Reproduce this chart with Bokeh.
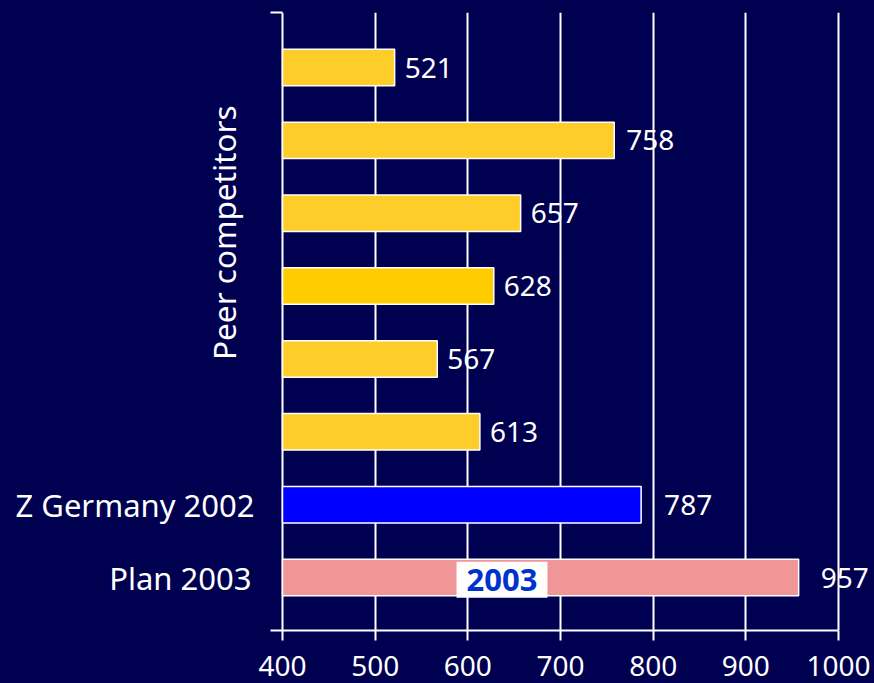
from bokeh.plotting import figure
from bokeh.models import ColumnDataSource, FixedTicker, Label, Range1d, LinearAxis
from bokeh.embed import file_html
from bokeh.resources import INLINE
from bokeh.core.properties import value
import math

# ---- data (top to bottom) ----
categories = ["Peer 1", "Peer 2", "Peer 3", "Peer 4", "Peer 5", "Peer 6", "Z Germany 2002", "Plan 2003"]
row_labels = ["", "", "", "", "", "", "Z Germany 2002", "Plan 2003"]
values = [521, 758, 657, 628, 567, 613, 787, 957]
tick_values = [400, 500, 600, 700, 800, 900, 1000]
group_label = "Peer competitors"
plan_badge = "2003"

# ---- styles ----
BG = "#000050"
FONT = "Noto Sans"
FS_TEXT = "31px"
FS_NUM = "28px"
bar_colors = ["#FFCD2A", "#FFCD2A", "#FFCD2A", "#FFCC00", "#FFCD2A", "#FFCD2A", "#0000FF", "#F09598"]
label_offsets = [10, 12, 10, 10, 10, 10, 23, 22]
cat_offsets = [-28, -28, -28, -28, -28, -28, -28, -31]

n = len(categories)
ypos = [n - 1 - i for i in range(n)]  # top row highest
x0 = tick_values[0]
x1 = tick_values[-1]
k = 556 / (x1 - x0)  # px per unit

src = ColumnDataSource(dict(
    y=ypos, v=values, c=bar_colors, off=label_offsets, coff=cat_offsets,
    txt=[str(v) for v in values], cat=row_labels, base=[x0] * n,
))

p = figure(width=874, height=683, output_backend="svg", toolbar_location=None,
           x_range=Range1d(x0 - 282 / k, x1 + 36 / k),
           y_range=Range1d(-0.727, n - 1 + 0.755),
           y_axis_location=None,
           min_border_left=0, min_border_right=0, min_border_top=12, min_border_bottom=53)
p.background_fill_color = BG
p.border_fill_color = BG
p.outline_line_color = None

p.hbar(y="y", left=x0, right="v", height=0.5, fill_color="c",
       line_color="white", line_width=1.5, source=src)

# value labels
p.text(x="v", y="y", text="txt", x_offset="off", source=src,
       text_color="white", text_font=value(FONT), text_font_size=FS_NUM,
       text_baseline="middle", text_align="left")

# row (category) labels left of the axis
p.text(x="base", y="y", text="cat", x_offset="coff", source=src,
       text_color="white", text_font=value(FONT), text_font_size=FS_TEXT,
       text_baseline="middle", text_align="right")

# group label, rotated
peer_y = sum(ypos[:6]) / 6
p.text(x=[x0], y=[peer_y], text=[group_label], x_offset=-59, y_offset=-17,
       angle=math.pi / 2, text_color="white", text_font=value(FONT),
       text_font_size="31.5px", text_align="center", text_baseline="middle")

# x axis
p.xaxis.ticker = FixedTicker(ticks=tick_values)
p.xaxis.bounds = (x0 - 12 / k, x1)
p.xaxis.axis_line_color = "white"
p.xaxis.axis_line_width = 2
p.xaxis.major_tick_line_color = "white"
p.xaxis.major_tick_line_width = 2
p.xaxis.major_tick_in = 0
p.xaxis.major_tick_out = 10
p.xaxis.minor_tick_line_color = None
p.xaxis.major_label_text_color = "white"
p.xaxis.major_label_text_font = FONT
p.xaxis.major_label_text_font_size = FS_NUM
p.xaxis.major_label_standoff = 15

# short top cap of the value axis
top = LinearAxis(bounds=(x0 - 12 / k, x0), ticker=FixedTicker(ticks=[]),
                 axis_line_color="white", axis_line_width=2,
                 major_tick_out=0, major_tick_in=0, minor_tick_out=0, minor_tick_in=0,
                 major_label_standoff=0, major_label_text_font_size="0px")
p.add_layout(top, "above")

p.xgrid.grid_line_color = "white"
p.xgrid.grid_line_width = 2
p.xgrid.ticker = FixedTicker(ticks=tick_values)
p.xgrid.bounds = (x0, x1)
p.ygrid.grid_line_color = None

# badge on the plan bar
p.add_layout(Label(x=x0 + (501.5 - 282) / k, y=ypos[-1] - 0.03, text=plan_badge,
                   text_color="#0033CC", text_font=FONT, text_font_size=FS_TEXT,
                   text_font_style="bold", text_align="center", text_baseline="middle",
                   background_fill_color="white", padding=(10, 7)))

html = file_html(p, INLINE)
html = html.replace("<head>", "<head><style>html,body{background:%s;margin:0;padding:0;overflow:hidden;}</style>" % BG, 1)
open("out.html", "w").write(html)
